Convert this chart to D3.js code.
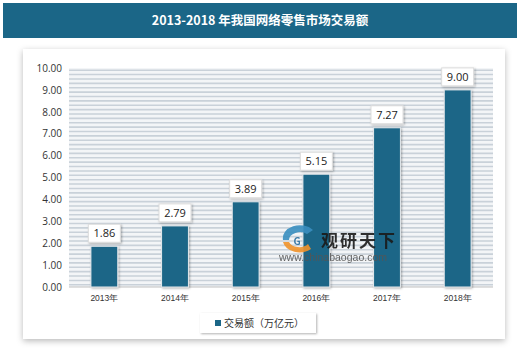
<!DOCTYPE html>
<html>
<head>
<meta charset="utf-8">
<script src="https://cdn.jsdelivr.net/npm/d3@7/dist/d3.min.js"></script>
<style>
  body { margin: 0; background: #fff; }
  svg { display: block; font-family: "Noto Sans CJK SC", "Liberation Sans", sans-serif; }
</style>
</head>
<body>
<div id="chart"></div>
<script>
// data
var years = ["2013年", "2014年", "2015年", "2016年", "2017年", "2018年"];
var values = [1.86, 2.79, 3.89, 5.15, 7.27, 9.00];
var yTicks = [0, 1, 2, 3, 4, 5, 6, 7, 8, 9, 10];
var title = "2013-2018 年我国网络零售市场交易额";
var seriesName = "交易额（万亿元）";

var width = 520, height = 352;
var barColor = "#1b6687";

var svg = d3.select("#chart").append("svg")
    .attr("width", width)
    .attr("height", height);

var defs = svg.append("defs");
var shadow = defs.append("filter").attr("id", "shadow")
    .attr("x", "-20%").attr("y", "-20%").attr("width", "140%").attr("height", "140%");
shadow.append("feDropShadow")
    .attr("dx", 0).attr("dy", 2).attr("stdDeviation", 3)
    .attr("flood-color", "#000").attr("flood-opacity", 0.28);

var smallShadow = defs.append("filter").attr("id", "smallShadow")
    .attr("x", "-30%").attr("y", "-30%").attr("width", "160%").attr("height", "160%");
smallShadow.append("feDropShadow")
    .attr("dx", 1).attr("dy", 1).attr("stdDeviation", 1.2)
    .attr("flood-color", "#000").attr("flood-opacity", 0.3);

// title bar
svg.append("rect")
    .attr("x", 3).attr("y", 3)
    .attr("width", 514).attr("height", 35)
    .attr("fill", barColor);

svg.append("text")
    .attr("x", 260).attr("y", 25)
    .attr("text-anchor", "middle")
    .attr("fill", "#fff")
    .attr("font-size", 12.5)
    .attr("font-weight", "bold")
    .text(title);

// panel
svg.append("rect")
    .attr("x", 23).attr("y", 49)
    .attr("width", 482).attr("height", 290)
    .attr("fill", "#fff")
    .attr("filter", "url(#shadow)");

// scales
var x = d3.scaleBand()
    .domain(years)
    .range([69, 493])
    .paddingInner(0.62)
    .paddingOuter(0.31);

var y = d3.scaleLinear()
    .domain([0, 10])
    .range([287, 68]);

// striped grid
var stripes = d3.range(0, 50).map(function (i) { return i * 0.2 + 0.1; });
svg.append("rect")
    .attr("x", 69).attr("y", y(10))
    .attr("width", 424).attr("height", y(0) - y(10))
    .attr("fill", "#f3f5f7");
svg.append("g")
    .selectAll("line")
    .data(stripes)
    .enter().append("line")
    .attr("x1", 69).attr("x2", 493)
    .attr("y1", function (d) { return y(d); })
    .attr("y2", function (d) { return y(d); })
    .attr("stroke", "#c9d1d9")
    .attr("stroke-width", 1.6);

// x axis baseline
svg.append("line")
    .attr("x1", 69).attr("x2", 493)
    .attr("y1", y(0)).attr("y2", y(0))
    .attr("stroke", "#bfbfbf");

// y axis labels
var yAxis = d3.axisLeft(y)
    .tickValues(yTicks)
    .tickSize(0)
    .tickPadding(0)
    .tickFormat(d3.format(".2f"));
var gy = svg.append("g")
    .attr("transform", "translate(62,0)")
    .call(yAxis);
gy.select(".domain").remove();
gy.selectAll("text")
    .attr("font-size", 10)
    .attr("fill", "#333")
    .attr("font-family", "'Open Sans', 'DejaVu Sans', sans-serif");

// x axis labels
var xAxis = d3.axisBottom(x).tickSize(0).tickPadding(8);
var gx = svg.append("g")
    .attr("transform", "translate(0," + y(0) + ")")
    .call(xAxis);
gx.select(".domain").remove();
gx.selectAll("text")
    .attr("font-size", 8.5)
    .attr("fill", "#333");

// bars
svg.append("g")
    .selectAll("rect")
    .data(values)
    .enter().append("rect")
    .attr("x", function (d, i) { return x(years[i]); })
    .attr("width", x.bandwidth())
    .attr("y", function (d) { return y(d); })
    .attr("height", function (d) { return y(0) - y(d); })
    .attr("fill", barColor)
    .attr("stroke", "#e6e9ec")
    .attr("stroke-width", 1)
    .attr("filter", "url(#smallShadow)");

// value labels
var lab = svg.append("g")
    .selectAll("g")
    .data(values)
    .enter().append("g")
    .attr("transform", function (d, i) {
        return "translate(" + (x(years[i]) + x.bandwidth() / 2) + "," + (y(d) - 13) + ")";
    });
lab.append("rect")
    .attr("x", -16).attr("y", -9)
    .attr("width", 32).attr("height", 18)
    .attr("fill", "#fff")
    .attr("stroke", "#ddd")
    .attr("filter", "url(#smallShadow)");
lab.append("text")
    .attr("text-anchor", "middle")
    .attr("dy", "0.36em")
    .attr("font-size", 11)
    .attr("fill", "#222")
    .attr("font-family", "'Open Sans', 'DejaVu Sans', sans-serif")
    .text(function (d) { return d3.format(".2f")(d); });

// watermark
var wm = svg.append("g").attr("opacity", 0.9);
wm.append("path")
    .attr("d", "M283,240 a17,13 0 0,1 30,-10 l-6,4 a11,8 0 0,0 -18,6 z")
    .attr("fill", "#3a8fc0");
wm.append("path")
    .attr("d", "M283,242 a17,13 0 0,0 28,7 l-3,-5 a11,8 0 0,1 -19,-2 z")
    .attr("fill", "#f0932b");
wm.append("text")
    .attr("x", 297).attr("y", 245)
    .attr("text-anchor", "middle")
    .attr("font-size", 10)
    .attr("font-weight", "bold")
    .attr("fill", "#2a6fa0")
    .text("G");
wm.append("text")
    .attr("x", 321).attr("y", 247)
    .attr("font-size", 17)
    .attr("font-weight", "bold")
    .attr("fill", "#1a1a1a")
    .attr("letter-spacing", 2)
    .text("观研天下");
wm.append("text")
    .attr("x", 279).attr("y", 261)
    .attr("font-size", 10.5)
    .attr("fill", "#555")
    .attr("font-family", "'Liberation Sans', Arial, sans-serif")
    .text("www.chinabaogao.com");

// legend
svg.append("rect")
    .attr("x", 200).attr("y", 313)
    .attr("width", 116).attr("height", 20)
    .attr("fill", "#fff")
    .attr("filter", "url(#smallShadow)");
svg.append("rect")
    .attr("x", 215).attr("y", 320)
    .attr("width", 6).attr("height", 6)
    .attr("fill", barColor);
svg.append("text")
    .attr("x", 224).attr("y", 327)
    .attr("font-size", 10)
    .attr("fill", "#333")
    .text(seriesName);
</script>
</body>
</html>
